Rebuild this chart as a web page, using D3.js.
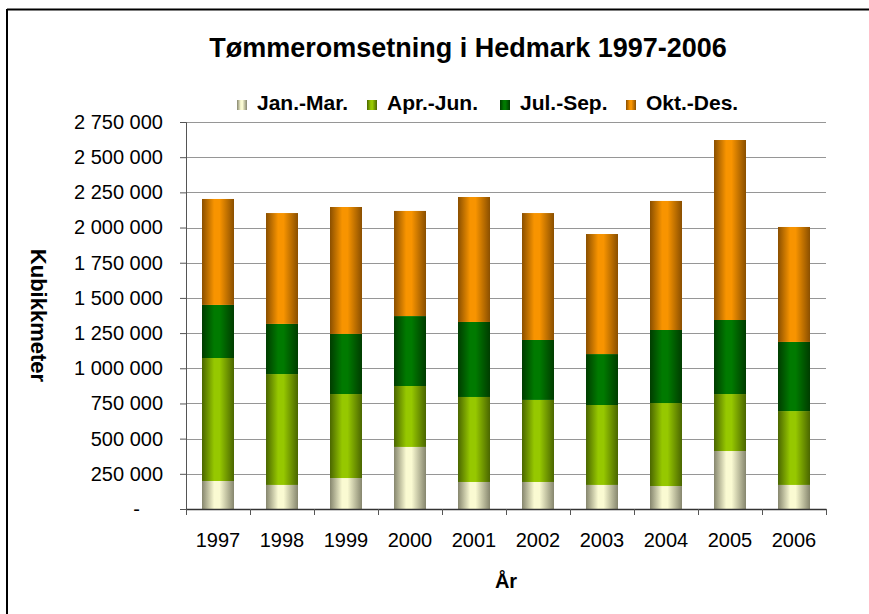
<!DOCTYPE html>
<html lang="no">
<head>
<meta charset="UTF-8">
<title>Tømmeromsetning i Hedmark 1997-2006</title>
<script src="https://d3js.org/d3.v7.min.js"></script>
<style>
  body { margin: 0; background: #fff; font-family: "Liberation Sans", Arial, sans-serif; }
  svg text { fill: #000; }
</style>
</head>
<body>
<svg id="chart" width="869" height="614"></svg>
<script>
  const years = ["1997","1998","1999","2000","2001","2002","2003","2004","2005","2006"];
  const quarters = ["Jan.-Mar.", "Apr.-Jun.", "Jul.-Sep.", "Okt.-Des."];

  const janMar = [199000, 171000, 220000, 441000, 192000, 192000, 171000, 163000, 412000, 171000];
  const aprJun = [874000, 788000, 597000, 433000, 604000, 583000, 568000, 590000, 405000, 525000];
  const julSep = [377000, 356000, 427000, 497000, 533000, 426000, 362000, 519000, 526000, 491000];
  const oktDes = [753000, 788000, 902000, 747000, 888000, 902000, 853000, 917000, 1279000, 817000];

  const yTicks = [0, 250000, 500000, 750000, 1000000, 1250000, 1500000, 1750000, 2000000, 2250000, 2500000, 2750000];

  // bright centre / dark edge per series
  const colors = [
    { mid: "#fafad2", edge: "#86866e" },
    { mid: "#96c800", edge: "#4a6600" },
    { mid: "#007a00", edge: "#003c00" },
    { mid: "#f89400", edge: "#8a4f00" }
  ];

  const series = [janMar, aprJun, julSep, oktDes];
  const rows = years.map((y, i) => {
    const r = { year: y };
    quarters.forEach((q, k) => r[q] = series[k][i]);
    return r;
  });

  const svg = d3.select("#chart");
  const margin = { top: 122, right: 43, bottom: 105, left: 186 };
  const width = 869, height = 614;

  // frame
  svg.append("line").attr("x1", 7).attr("x2", 869).attr("y1", 9.5).attr("y2", 9.5)
    .attr("stroke", "#000").attr("stroke-width", 2);
  svg.append("line").attr("x1", 7).attr("x2", 7).attr("y1", 9).attr("y2", 614)
    .attr("stroke", "#000").attr("stroke-width", 2);

  const defs = svg.append("defs");
  colors.forEach((c, k) => {
    const g = defs.append("linearGradient").attr("id", "grad" + k)
      .attr("x1", "0%").attr("x2", "100%").attr("y1", "0%").attr("y2", "0%");
    g.append("stop").attr("offset", "0%").attr("stop-color", c.edge);
    g.append("stop").attr("offset", "38%").attr("stop-color", c.mid);
    g.append("stop").attr("offset", "55%").attr("stop-color", c.mid);
    g.append("stop").attr("offset", "100%").attr("stop-color", c.edge);
  });

  const x = d3.scaleBand().domain(years)
    .range([margin.left, width - margin.right]).paddingInner(0.5).paddingOuter(0.25);
  const xb = d3.scaleBand().domain(years).range([margin.left, width - margin.right]);
  const y = d3.scaleLinear().domain([0, 2750000]).range([height - margin.bottom, margin.top]);

  // gridlines
  svg.append("g").selectAll("line").data(yTicks.slice(1)).join("line")
    .attr("x1", margin.left).attr("x2", width - margin.right)
    .attr("y1", d => Math.round(y(d)) + 0.5).attr("y2", d => Math.round(y(d)) + 0.5)
    .attr("stroke", "#969696").attr("stroke-width", 1);

  const stack = d3.stack().keys(quarters)(rows);
  svg.append("g").selectAll("g").data(stack).join("g")
    .attr("fill", (d, k) => `url(#grad${k})`)
    .selectAll("rect").data(d => d).join("rect")
    .attr("x", d => x(d.data.year))
    .attr("width", x.bandwidth())
    .attr("y", d => y(d[1]))
    .attr("height", d => y(d[0]) - y(d[1]));

  // y axis
  const yAxis = svg.append("g").attr("transform", `translate(${margin.left},0)`)
    .call(d3.axisLeft(y).tickValues(yTicks).tickSize(6).tickPadding(17)
      .tickFormat(v => v === 0 ? "-" : d3.format(",")(v).replace(/,/g, " ")));
  yAxis.select(".domain").attr("stroke", "#555");
  yAxis.selectAll(".tick line").attr("stroke", "#555");
  yAxis.selectAll("text").attr("font-size", 20).attr("font-family", "Liberation Sans, Arial, sans-serif")
    .attr("dx", d => d === 0 ? -23 : 0);

  // x axis
  const xAxis = svg.append("g").attr("transform", `translate(0,${height - margin.bottom})`)
    .call(d3.axisBottom(xb).tickSize(0).tickPadding(24));
  xAxis.select(".domain").attr("stroke", "#333").attr("stroke-width", 1.5);
  xAxis.selectAll("text").attr("font-size", 20).attr("font-family", "Liberation Sans, Arial, sans-serif");
  svg.append("g").selectAll("line").data(years.concat(["end"])).join("line")
    .attr("x1", (d, i) => Math.round(i < years.length ? xb(d) : width - margin.right) + 0.5)
    .attr("x2", (d, i) => Math.round(i < years.length ? xb(d) : width - margin.right) + 0.5)
    .attr("y1", height - margin.bottom).attr("y2", height - margin.bottom + 6)
    .attr("stroke", "#555");

  // titles
  svg.append("text").attr("x", 468).attr("y", 57).attr("text-anchor", "middle")
    .attr("font-size", 27).attr("font-weight", "bold").text("Tømmeromsetning i Hedmark 1997-2006");

  svg.append("text").attr("transform", `translate(31,${(margin.top + height - margin.bottom) / 2}) rotate(90)`)
    .attr("text-anchor", "middle").attr("font-size", 22).attr("font-weight", "bold").text("Kubikkmeter");

  svg.append("text").attr("x", (margin.left + width - margin.right) / 2).attr("y", 588)
    .attr("text-anchor", "middle").attr("font-size", 20).attr("font-weight", "bold").text("År");

  // legend
  const legX = [237, 367, 500, 626];
  const leg = svg.append("g").selectAll("g").data(quarters).join("g")
    .attr("transform", (d, k) => `translate(${legX[k]},100)`);
  leg.append("rect").attr("width", 10).attr("height", 10).attr("fill", (d, k) => `url(#grad${k})`);
  leg.append("text").attr("x", 20).attr("y", 10).attr("font-size", 21).attr("font-weight", "bold").text(d => d);
</script>
</body>
</html>
